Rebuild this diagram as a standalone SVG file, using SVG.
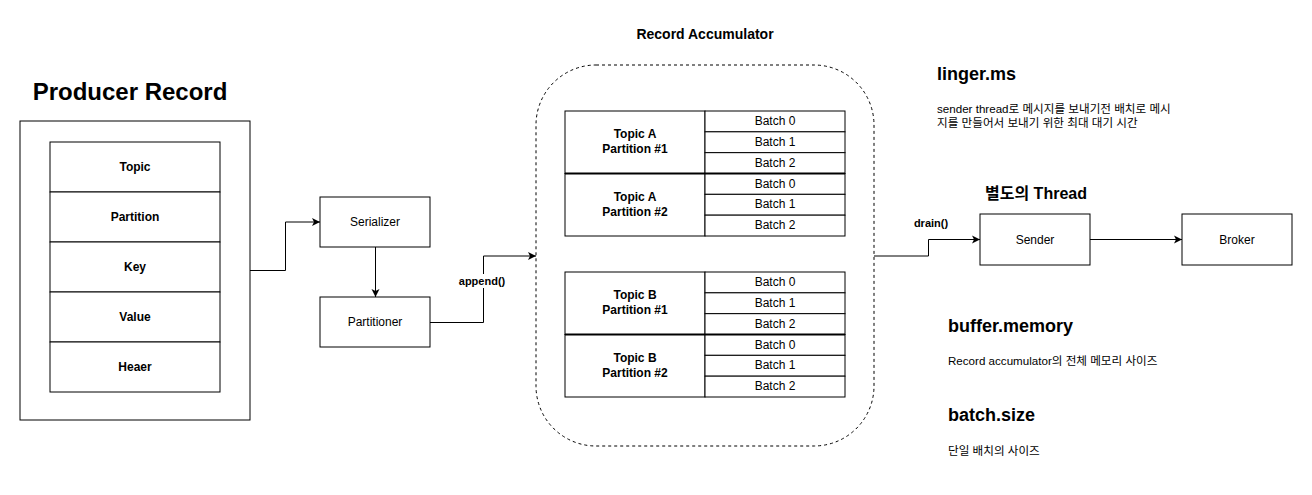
<svg xmlns="http://www.w3.org/2000/svg" width="1312" height="495" viewBox="0 0 1312 495">
<style>
text{font-family:"Liberation Sans",Arial,"Noto Sans CJK KR",sans-serif;fill:#000}
.box{fill:#fff;stroke:#000;stroke-width:1}
.c{text-anchor:middle}
.b{font-weight:bold}
.f12{font-size:12px}
.f11{font-size:11px}
.h18{font-size:18px;font-weight:bold}
.d{font-size:11.6px}
.ln{fill:none;stroke:#000;stroke-width:1}
</style>
<defs>
<marker id="arr" markerWidth="10" markerHeight="10" refX="8" refY="5" orient="auto" markerUnits="userSpaceOnUse">
<path d="M0,1 L8,5 L0,9 L2,5 Z" fill="#000"/>
</marker>
</defs>
<rect width="1312" height="495" fill="#fff"/>

<g id="producer-record">
<text x="130" y="100" class="c b" font-size="24">Producer Record</text>
<rect class="box" x="20" y="121" width="230" height="299"/>
<rect class="box" x="50" y="142" width="170" height="50"/>
<rect class="box" x="50" y="192" width="170" height="50"/>
<rect class="box" x="50" y="242" width="170" height="50"/>
<rect class="box" x="50" y="292" width="170" height="50"/>
<rect class="box" x="50" y="342" width="170" height="50"/>
<text x="135" y="171" class="c b f12">Topic</text>
<text x="135" y="221" class="c b f12">Partition</text>
<text x="135" y="271" class="c b f12">Key</text>
<text x="135" y="321" class="c b f12">Value</text>
<text x="135" y="371" class="c b f12">Heaer</text>
</g>

<g id="serializer">
<rect class="box" x="320" y="197" width="110" height="50"/>
<text x="375" y="226" class="c f12">Serializer</text>
</g>

<g id="partitioner">
<rect class="box" x="320" y="297" width="110" height="50"/>
<text x="375" y="326" class="c f12">Partitioner</text>
</g>

<g id="record-accumulator">
<text x="705" y="39" class="c b" font-size="14">Record Accumulator</text>
<rect x="536" y="65" width="338" height="381" rx="60" ry="60" fill="none" stroke="#000" stroke-width="1" stroke-dasharray="3,3"/>
</g>

<g id="topic-a">
<rect class="box" x="565" y="111" width="140" height="62.5"/>
<rect class="box" x="565" y="173.5" width="140" height="62.5"/>
<rect class="box" x="705" y="111" width="140" height="20.83"/>
<rect class="box" x="705" y="131.83" width="140" height="20.83"/>
<rect class="box" x="705" y="152.67" width="140" height="20.83"/>
<rect class="box" x="705" y="173.5" width="140" height="20.83"/>
<rect class="box" x="705" y="194.33" width="140" height="20.83"/>
<rect class="box" x="705" y="215.17" width="140" height="20.83"/>
<line x1="565" y1="173.5" x2="845" y2="173.5" stroke="#000" stroke-width="2"/>
<text x="635" y="138" class="c b f12">Topic A</text>
<text x="635" y="153" class="c b f12">Partition #1</text>
<text x="635" y="201" class="c b f12">Topic A</text>
<text x="635" y="216" class="c b f12">Partition #2</text>
<text x="775" y="125" class="c f12">Batch 0</text>
<text x="775" y="145.8" class="c f12">Batch 1</text>
<text x="775" y="166.6" class="c f12">Batch 2</text>
<text x="775" y="187.5" class="c f12">Batch 0</text>
<text x="775" y="208.3" class="c f12">Batch 1</text>
<text x="775" y="229.1" class="c f12">Batch 2</text>
</g>

<g id="topic-b">
<rect class="box" x="565" y="272" width="140" height="62.5"/>
<rect class="box" x="565" y="334.5" width="140" height="62.5"/>
<rect class="box" x="705" y="272" width="140" height="20.83"/>
<rect class="box" x="705" y="292.83" width="140" height="20.83"/>
<rect class="box" x="705" y="313.67" width="140" height="20.83"/>
<rect class="box" x="705" y="334.5" width="140" height="20.83"/>
<rect class="box" x="705" y="355.33" width="140" height="20.83"/>
<rect class="box" x="705" y="376.17" width="140" height="20.83"/>
<line x1="565" y1="334.5" x2="845" y2="334.5" stroke="#000" stroke-width="2"/>
<text x="635" y="299" class="c b f12">Topic B</text>
<text x="635" y="314" class="c b f12">Partition #1</text>
<text x="635" y="362" class="c b f12">Topic B</text>
<text x="635" y="377" class="c b f12">Partition #2</text>
<text x="775" y="286" class="c f12">Batch 0</text>
<text x="775" y="306.8" class="c f12">Batch 1</text>
<text x="775" y="327.6" class="c f12">Batch 2</text>
<text x="775" y="348.5" class="c f12">Batch 0</text>
<text x="775" y="369.3" class="c f12">Batch 1</text>
<text x="775" y="390.1" class="c f12">Batch 2</text>
</g>

<g id="sender">
<text x="985" y="199" class="b" font-size="16">별도의 Thread</text>
<rect class="box" x="980" y="214" width="110" height="51"/>
<text x="1035" y="243.5" class="c f12">Sender</text>
</g>

<g id="broker">
<rect class="box" x="1182" y="214" width="110" height="51"/>
<text x="1237" y="243.5" class="c f12">Broker</text>
</g>

<g id="linger-ms">
<text x="937" y="80" class="h18">linger.ms</text>
<text x="937" y="113" class="d">sender thread로 메시지를 보내기전 배치로 메시</text>
<text x="937" y="127" class="d">지를 만들어서 보내기 위한 최대 대기 시간</text>
</g>

<g id="buffer-memory">
<text x="948" y="332" class="h18">buffer.memory</text>
<text x="948" y="365" class="d">Record accumulator의 전체 메모리 사이즈</text>
</g>

<g id="batch-size">
<text x="948" y="421" class="h18">batch.size</text>
<text x="948" y="455" class="d">단일 배치의 사이즈</text>
</g>

<g id="connectors">
<polyline class="ln" points="250,270.5 285.5,270.5 285.5,222 320,222" marker-end="url(#arr)"/>
<polyline class="ln" points="375.5,247 375.5,297" marker-end="url(#arr)"/>
<polyline class="ln" points="430,322.5 483.5,322.5 483.5,256 536,256" marker-end="url(#arr)"/>
<polyline class="ln" points="874,256 928.5,256 928.5,239.5 980,239.5" marker-end="url(#arr)"/>
<polyline class="ln" points="1090,239.5 1182,239.5" marker-end="url(#arr)"/>
<rect x="457" y="274" width="52" height="14" fill="#fff"/>
<text x="482" y="285" class="c b f11">append()</text>
<text x="931" y="227" class="c b f11">drain()</text>
</g>
</svg>
